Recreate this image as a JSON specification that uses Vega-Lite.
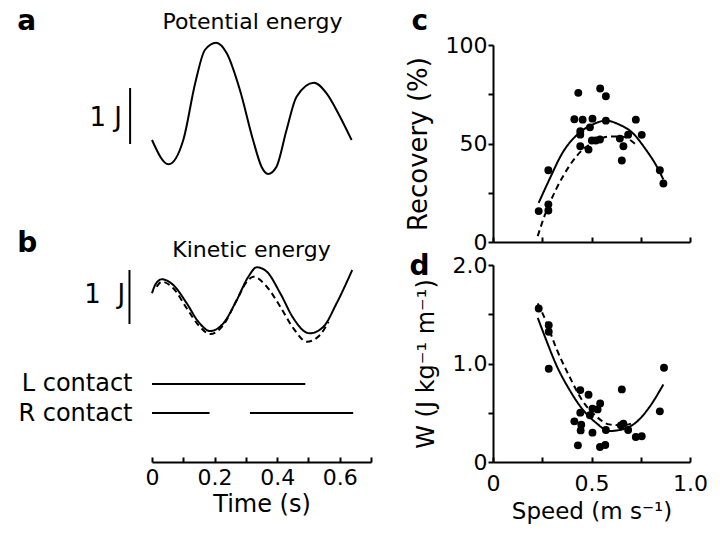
{
  "$schema": "https://vega.github.io/schema/vega-lite/v6.json",
  "autosize": {"type": "none"},
  "padding": {"left": 152, "top": 45, "right": 568, "bottom": 497},
  "background": "white",
  "config": {
    "font": "DejaVu Sans",
    "view": {"stroke": null},
    "axis": {"domainColor": "black", "tickColor": "black", "labelColor": "black", "titleColor": "black", "domainWidth": 2, "tickWidth": 2, "labelFontSize": 22, "titleFontSize": 24, "titleFontWeight": "normal", "grid": false, "labelFont": "DejaVu Sans", "titleFont": "DejaVu Sans", "labelFlush": false, "labelOverlap": false},
    "text": {"font": "DejaVu Sans", "color": "black"}
  },
  "datasets": {
    "pe": [
      {"t": 0, "E": 0.606}, {"t": 0.053, "E": 0.173}, {"t": 0.1, "E": 0.606}, {"t": 0.138, "E": 1.617}, {"t": 0.169, "E": 2.211}, {"t": 0.205, "E": 2.341}, {"t": 0.239, "E": 2.152}, {"t": 0.281, "E": 1.498}, {"t": 0.323, "E": 0.606}, {"t": 0.35, "E": 0.13}, {"t": 0.371, "E": 0}, {"t": 0.398, "E": 0.13}, {"t": 0.43, "E": 0.784}, {"t": 0.462, "E": 1.378}, {"t": 0.518, "E": 1.628}, {"t": 0.558, "E": 1.439}, {"t": 0.601, "E": 1.022}, {"t": 0.638, "E": 0.606}
    ],
    "ke": [
      {"series": "solid", "t": 0, "E": 0.936}, {"series": "solid", "t": 0.01, "E": 1.083}, {"series": "solid", "t": 0.031, "E": 1.185}, {"series": "solid", "t": 0.068, "E": 1.083}, {"series": "solid", "t": 0.111, "E": 0.758}, {"series": "solid", "t": 0.148, "E": 0.432}, {"series": "solid", "t": 0.186, "E": 0.266}, {"series": "solid", "t": 0.228, "E": 0.403}, {"series": "solid", "t": 0.271, "E": 0.817}, {"series": "solid", "t": 0.308, "E": 1.231}, {"series": "solid", "t": 0.335, "E": 1.398}, {"series": "solid", "t": 0.367, "E": 1.32}, {"series": "solid", "t": 0.41, "E": 0.936}, {"series": "solid", "t": 0.452, "E": 0.492}, {"series": "solid", "t": 0.495, "E": 0.236}, {"series": "solid", "t": 0.505, "E": 0.226}, {"series": "solid", "t": 0.548, "E": 0.343}, {"series": "solid", "t": 0.59, "E": 0.758}, {"series": "solid", "t": 0.64, "E": 1.35},
      {"series": "dashed", "t": 0.015, "E": 1.053}, {"series": "dashed", "t": 0.031, "E": 1.142}, {"series": "dashed", "t": 0.068, "E": 1.025}, {"series": "dashed", "t": 0.111, "E": 0.67}, {"series": "dashed", "t": 0.148, "E": 0.373}, {"series": "dashed", "t": 0.186, "E": 0.213}, {"series": "dashed", "t": 0.228, "E": 0.373}, {"series": "dashed", "t": 0.271, "E": 0.817}, {"series": "dashed", "t": 0.303, "E": 1.142}, {"series": "dashed", "t": 0.324, "E": 1.231}, {"series": "dashed", "t": 0.367, "E": 1.053}, {"series": "dashed", "t": 0.41, "E": 0.698}, {"series": "dashed", "t": 0.452, "E": 0.314}, {"series": "dashed", "t": 0.495, "E": 0.076}, {"series": "dashed", "t": 0.537, "E": 0.195}, {"series": "dashed", "t": 0.564, "E": 0.432}
    ],
    "contact": [
      {"limb": "L contact", "start": 0, "end": 0.49},
      {"limb": "R contact", "start": 0, "end": 0.184},
      {"limb": "R contact", "start": 0.313, "end": 0.643}
    ],
    "recPts": [
      {"v": 0.232, "r": 15.7}, {"v": 0.281, "r": 19.1}, {"v": 0.281, "r": 16.0}, {"v": 0.281, "r": 36.4}, {"v": 0.433, "r": 75.7}, {"v": 0.413, "r": 62.3}, {"v": 0.455, "r": 62.1}, {"v": 0.443, "r": 56.2}, {"v": 0.443, "r": 54.5}, {"v": 0.443, "r": 48.6}, {"v": 0.485, "r": 46.9}, {"v": 0.492, "r": 58.2}, {"v": 0.505, "r": 62.6}, {"v": 0.502, "r": 51.5}, {"v": 0.522, "r": 51.5}, {"v": 0.543, "r": 52.0}, {"v": 0.544, "r": 77.9}, {"v": 0.573, "r": 74.0}, {"v": 0.573, "r": 61.6}, {"v": 0.644, "r": 52.5}, {"v": 0.662, "r": 48.6}, {"v": 0.654, "r": 41.4}, {"v": 0.686, "r": 54.5}, {"v": 0.725, "r": 62.1}, {"v": 0.755, "r": 54.4}, {"v": 0.847, "r": 36.4}, {"v": 0.865, "r": 29.7}
    ],
    "recFit": [
      {"series": "solid", "v": 0.232, "r": 19.9}, {"series": "solid", "v": 0.286, "r": 31.7}, {"series": "solid", "v": 0.353, "r": 45.3}, {"series": "solid", "v": 0.438, "r": 55.4}, {"series": "solid", "v": 0.505, "r": 59.6}, {"series": "solid", "v": 0.573, "r": 61.6}, {"series": "solid", "v": 0.641, "r": 59.6}, {"series": "solid", "v": 0.708, "r": 55.4}, {"series": "solid", "v": 0.776, "r": 46.9}, {"series": "solid", "v": 0.826, "r": 39.3}, {"series": "solid", "v": 0.865, "r": 31.7},
      {"series": "dashed", "v": 0.227, "r": 3.0}, {"series": "dashed", "v": 0.261, "r": 13.1}, {"series": "dashed", "v": 0.32, "r": 26.7}, {"series": "dashed", "v": 0.387, "r": 38.5}, {"series": "dashed", "v": 0.455, "r": 46.9}, {"series": "dashed", "v": 0.522, "r": 51.1}, {"series": "dashed", "v": 0.581, "r": 53.4}, {"series": "dashed", "v": 0.65, "r": 53.6}, {"series": "dashed", "v": 0.725, "r": 49.5}
    ],
    "wPts": [
      {"v": 0.232, "w": 1.559}, {"v": 0.283, "w": 1.389}, {"v": 0.283, "w": 1.322}, {"v": 0.283, "w": 0.947}, {"v": 0.443, "w": 0.73}, {"v": 0.485, "w": 0.683}, {"v": 0.443, "w": 0.501}, {"v": 0.413, "w": 0.413}, {"v": 0.448, "w": 0.379}, {"v": 0.445, "w": 0.321}, {"v": 0.431, "w": 0.169}, {"v": 0.505, "w": 0.298}, {"v": 0.492, "w": 0.474}, {"v": 0.505, "w": 0.542}, {"v": 0.531, "w": 0.534}, {"v": 0.544, "w": 0.595}, {"v": 0.543, "w": 0.152}, {"v": 0.57, "w": 0.172}, {"v": 0.573, "w": 0.325}, {"v": 0.654, "w": 0.737}, {"v": 0.662, "w": 0.389}, {"v": 0.649, "w": 0.372}, {"v": 0.686, "w": 0.325}, {"v": 0.725, "w": 0.254}, {"v": 0.755, "w": 0.261}, {"v": 0.847, "w": 0.514}, {"v": 0.868, "w": 0.957}
    ],
    "wFit": [
      {"series": "solid", "v": 0.227, "w": 1.464}, {"series": "solid", "v": 0.269, "w": 1.244}, {"series": "solid", "v": 0.32, "w": 0.991}, {"series": "solid", "v": 0.387, "w": 0.737}, {"series": "solid", "v": 0.455, "w": 0.534}, {"series": "solid", "v": 0.522, "w": 0.4}, {"series": "solid", "v": 0.59, "w": 0.314}, {"series": "solid", "v": 0.657, "w": 0.332}, {"series": "solid", "v": 0.725, "w": 0.4}, {"series": "solid", "v": 0.792, "w": 0.552}, {"series": "solid", "v": 0.865, "w": 0.788},
      {"series": "dashed", "v": 0.227, "w": 1.61}, {"series": "dashed", "v": 0.269, "w": 1.43}, {"series": "dashed", "v": 0.32, "w": 1.16}, {"series": "dashed", "v": 0.387, "w": 0.872}, {"series": "dashed", "v": 0.455, "w": 0.619}, {"series": "dashed", "v": 0.522, "w": 0.467}, {"series": "dashed", "v": 0.59, "w": 0.382}, {"series": "dashed", "v": 0.657, "w": 0.372}, {"series": "dashed", "v": 0.7, "w": 0.39}
    ]
  },
  "hconcat": [
    {
      "bounds": "flush",
      "spacing": 20,
      "vconcat": [
        {
          "width": 219, "height": 129,
          "layer": [
            {
              "data": {"name": "pe"},
              "mark": {"type": "line", "color": "black", "strokeWidth": 2, "interpolate": "monotone"},
              "encoding": {
                "x": {"field": "t", "type": "quantitative", "scale": {"domain": [0, 0.7], "nice": false}, "axis": null},
                "y": {"field": "E", "type": "quantitative", "scale": {"domain": [0, 2.3], "nice": false, "zero": false}, "axis": null}
              }
            },
            {
              "data": {"values": [{}]},
              "mark": {"type": "rule", "color": "black", "strokeWidth": 2},
              "encoding": {"x": {"datum": -0.07, "type": "quantitative"}, "y": {"datum": 0.535, "type": "quantitative"}, "y2": {"datum": 1.533}}
            },
            {
              "data": {"values": [{}]},
              "mark": {"type": "text", "text": "1 J", "align": "right", "baseline": "middle", "fontSize": 26},
              "encoding": {"x": {"datum": -0.096, "type": "quantitative"}, "y": {"datum": 1.0, "type": "quantitative"}}
            },
            {
              "data": {"values": [{}]},
              "mark": {"type": "text", "text": "Potential energy", "align": "center", "baseline": "alphabetic", "fontSize": 22},
              "encoding": {"x": {"datum": 0.321, "type": "quantitative"}, "y": {"datum": 2.585, "type": "quantitative"}}
            },
            {
              "data": {"values": [{}]},
              "mark": {"type": "text", "text": "a", "align": "left", "baseline": "alphabetic", "fontSize": 28, "fontWeight": "bold"},
              "encoding": {"x": {"datum": -0.431, "type": "quantitative"}, "y": {"datum": 2.567, "type": "quantitative"}}
            }
          ]
        },
        {
          "width": 219, "height": 152,
          "layer": [
            {
              "data": {"name": "ke"},
              "mark": {"type": "line", "color": "black", "strokeWidth": 2, "interpolate": "monotone"},
              "encoding": {
                "x": {"field": "t", "type": "quantitative", "scale": {"domain": [0, 0.7], "nice": false}, "axis": null},
                "y": {"field": "E", "type": "quantitative", "scale": {"domain": [0, 2.7], "nice": false, "zero": false}, "axis": null},
                "detail": {"field": "series"},
                "strokeDash": {"field": "series", "type": "nominal", "scale": {"domain": ["solid", "dashed"], "range": [[1, 0], [6, 4]]}, "legend": null}
              }
            },
            {
              "data": {"values": [{}]},
              "mark": {"type": "rule", "color": "black", "strokeWidth": 2},
              "encoding": {"x": {"datum": -0.072, "type": "quantitative"}, "y": {"datum": 0.39, "type": "quantitative"}, "y2": {"datum": 1.35}}
            },
            {
              "data": {"values": [{}]},
              "mark": {"type": "text", "text": "1 \u00a0J", "align": "right", "baseline": "middle", "fontSize": 26},
              "encoding": {"x": {"datum": -0.086, "type": "quantitative"}, "y": {"datum": 0.906, "type": "quantitative"}}
            },
            {
              "data": {"values": [{}]},
              "mark": {"type": "text", "text": "Kinetic energy", "align": "center", "baseline": "alphabetic", "fontSize": 22},
              "encoding": {"x": {"datum": 0.318, "type": "quantitative"}, "y": {"datum": 1.575, "type": "quantitative"}}
            },
            {
              "data": {"values": [{}]},
              "mark": {"type": "text", "text": "b", "align": "left", "baseline": "alphabetic", "fontSize": 28, "fontWeight": "bold"},
              "encoding": {"x": {"datum": -0.431, "type": "quantitative"}, "y": {"datum": 1.67, "type": "quantitative"}}
            }
          ]
        },
        {
          "width": 219, "height": 65,
          "data": {"name": "contact"},
          "mark": {"type": "rule", "color": "black", "strokeWidth": 2},
          "encoding": {
            "x": {"field": "start", "type": "quantitative", "scale": {"domain": [0, 0.7], "nice": false},
                  "axis": {"title": "Time (s)", "values": [0, 0.1, 0.2, 0.3, 0.4, 0.5, 0.6, 0.7], "labelExpr": "round(datum.value * 10) % 2 == 0 ? (datum.value == 0 ? '0' : format(datum.value, '.1f')) : ''", "tickSize": -5, "offset": 31, "labelPadding": 10, "titlePadding": 4}},
            "x2": {"field": "end"},
            "y": {"field": "limb", "type": "ordinal", "scale": {"type": "point", "padding": 0.614, "domain": ["L contact", "R contact"]},
                  "axis": {"title": null, "domain": false, "ticks": false, "labelPadding": 20, "labelFontSize": 24}}
          }
        }
      ]
    },
    {
      "bounds": "flush",
      "spacing": 23,
      "vconcat": [
        {
          "width": 197, "height": 197,
          "layer": [
            {
              "data": {"name": "recFit"},
              "mark": {"type": "line", "color": "black", "strokeWidth": 2, "interpolate": "monotone"},
              "encoding": {
                "x": {"field": "v", "type": "quantitative", "scale": {"domain": [0, 1], "nice": false},
                      "axis": {"title": null, "values": [0, 0.25, 0.5, 0.75, 1], "labels": false, "tickSize": -5}},
                "y": {"field": "r", "type": "quantitative", "scale": {"domain": [0, 100], "nice": false},
                      "axis": {"title": "Recovery (%)", "titleFontSize": 26, "values": [0, 25, 50, 75, 100], "labelExpr": "datum.value % 50 == 0 ? datum.label : ''", "tickSize": 5, "labelPadding": 1, "titlePadding": 14}},
                "detail": {"field": "series"},
                "strokeDash": {"field": "series", "type": "nominal", "scale": {"domain": ["solid", "dashed"], "range": [[1, 0], [7, 5]]}, "legend": null}
              }
            },
            {
              "data": {"name": "recPts"},
              "mark": {"type": "circle", "color": "black", "opacity": 1, "size": 62},
              "encoding": {
                "x": {"field": "v", "type": "quantitative"},
                "y": {"field": "r", "type": "quantitative"}
              }
            },
            {
              "data": {"values": [{}]},
              "mark": {"type": "text", "text": "c", "align": "left", "baseline": "alphabetic", "fontSize": 28, "fontWeight": "bold"},
              "encoding": {"x": {"datum": -0.414, "type": "quantitative"}, "y": {"datum": 107.6, "type": "quantitative"}}
            }
          ]
        },
        {
          "width": 197, "height": 197,
          "layer": [
            {
              "data": {"name": "wFit"},
              "mark": {"type": "line", "color": "black", "strokeWidth": 2, "interpolate": "monotone"},
              "encoding": {
                "x": {"field": "v", "type": "quantitative", "scale": {"domain": [0, 1], "nice": false},
                      "axis": {"title": "Speed (m s\u207b\u00b9)", "titleFontSize": 23, "values": [0, 0.25, 0.5, 0.75, 1], "labelExpr": "datum.value == 0 ? '0' : (datum.value == 0.5 || datum.value == 1 ? format(datum.value, '.1f') : '')", "tickSize": -5, "labelPadding": 16, "titlePadding": 6}},
                "y": {"field": "w", "type": "quantitative", "scale": {"domain": [0, 2], "nice": false},
                      "axis": {"title": "W (J kg\u207b\u00b9 m\u207b\u00b9)", "titleFontSize": 24, "values": [0, 0.5, 1, 1.5, 2], "labelExpr": "datum.value == 0 ? '0' : (datum.value == 1 || datum.value == 2 ? format(datum.value, '.1f') : '')", "tickSize": 5, "labelPadding": 1, "titlePadding": 14}},
                "detail": {"field": "series"},
                "strokeDash": {"field": "series", "type": "nominal", "scale": {"domain": ["solid", "dashed"], "range": [[1, 0], [7, 5]]}, "legend": null}
              }
            },
            {
              "data": {"name": "wPts"},
              "mark": {"type": "circle", "color": "black", "opacity": 1, "size": 62},
              "encoding": {
                "x": {"field": "v", "type": "quantitative"},
                "y": {"field": "w", "type": "quantitative"}
              }
            },
            {
              "data": {"values": [{}]},
              "mark": {"type": "text", "text": "d", "align": "left", "baseline": "alphabetic", "fontSize": 28, "fontWeight": "bold"},
              "encoding": {"x": {"datum": -0.424, "type": "quantitative"}, "y": {"datum": 1.9, "type": "quantitative"}}
            }
          ]
        }
      ]
    }
  ],
  "spacing": 341,
  "bounds": "flush"
}
